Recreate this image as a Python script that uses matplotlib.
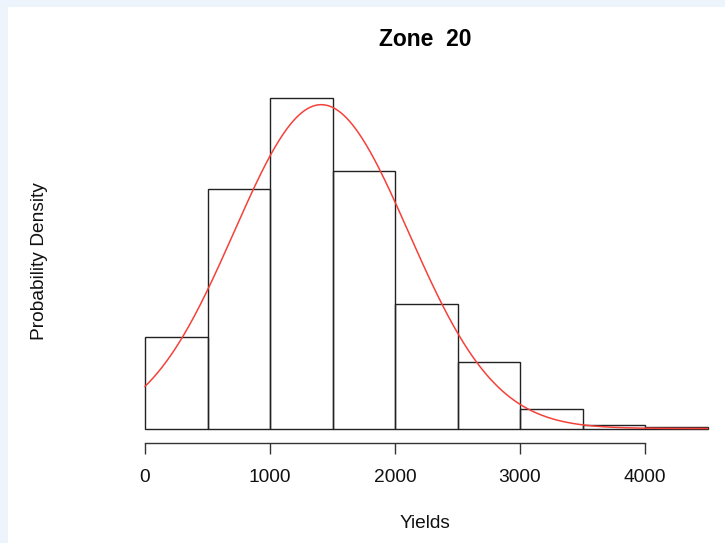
import numpy as np
import matplotlib
matplotlib.use("Agg")
import matplotlib.pyplot as plt
from matplotlib.patches import Rectangle

# ---- data ----
bin_edges = [0, 500, 1000, 1500, 2000, 2500, 3000, 3500, 4000, 4500]
densities = [1.61e-4, 4.22e-4, 5.84e-4, 4.54e-4, 2.19e-4, 1.18e-4, 0.34e-4, 0.065e-4, 0.022e-4]
norm_mean = 1410.0
norm_sd = 698.0
xticks = [0, 1000, 2000, 3000, 4000]
title = "Zone  20"
xlabel = "Yields"
ylabel = "Probability Density"

W, H = 725, 543
fig = plt.figure(figsize=(W / 100, H / 100), dpi=100)
fig.patch.set_facecolor("#edf4fb")
fig.patches.append(Rectangle((8 / W, 0), 1 - 8 / W, 1 - 7 / H, transform=fig.transFigure,
                             facecolor="white", edgecolor="none", zorder=-10))

font = "Liberation Sans"
ax_left_px, ax_right_px = 122.5, 725
ax_bottom_px, ax_top_px = 443, 90
ax = fig.add_axes([ax_left_px / W, 1 - ax_bottom_px / H,
                   (ax_right_px - ax_left_px) / W, (ax_bottom_px - ax_top_px) / H])
ax.set_facecolor("none")

lefts = np.array(bin_edges[:-1])
widths = np.diff(bin_edges)
ax.bar(lefts, densities, width=widths, align="edge", fill=False,
       edgecolor="#222222", linewidth=1.0)

xs = np.linspace(bin_edges[0], bin_edges[-1], 400)
ys = np.exp(-0.5 * ((xs - norm_mean) / norm_sd) ** 2) / (norm_sd * np.sqrt(2 * np.pi))
ax.plot(xs, ys, color="#f5413a", linewidth=1.1)

scale = 566600.0  # px per density unit
ax.set_xlim(-180, -180 + (ax_right_px - ax_left_px) / 0.125)
ax.set_ylim(-(ax_bottom_px - 428.5) / scale, (428.5 - ax_top_px) / scale)

for s in ["top", "right", "left"]:
    ax.spines[s].set_visible(False)
ax.spines["bottom"].set_bounds(xticks[0], xticks[-1])
ax.spines["bottom"].set_color("#333333")
ax.spines["bottom"].set_linewidth(1.0)
ax.set_yticks([])
ax.set_xticks(xticks)
ax.set_xticklabels([str(t) for t in xticks], fontfamily=font, fontsize=13.8, color="#111111")
ax.tick_params(axis="x", length=8, width=1.0, color="#333333", pad=11)

fig.text(425 / W, 1 - 40 / H, title, ha="center", va="center", fontfamily=font,
         fontsize=16.5, fontweight="bold", color="black")
fig.text(425 / W, 1 - 523 / H, xlabel, ha="center", va="center", fontfamily=font,
         fontsize=13.8, color="#111111")
fig.text(40 / W, 1 - 261 / H, ylabel, ha="center", va="center", rotation=90,
         fontfamily=font, fontsize=13.8, color="#111111")

fig.savefig("out.png", dpi=100, facecolor=fig.get_facecolor())
